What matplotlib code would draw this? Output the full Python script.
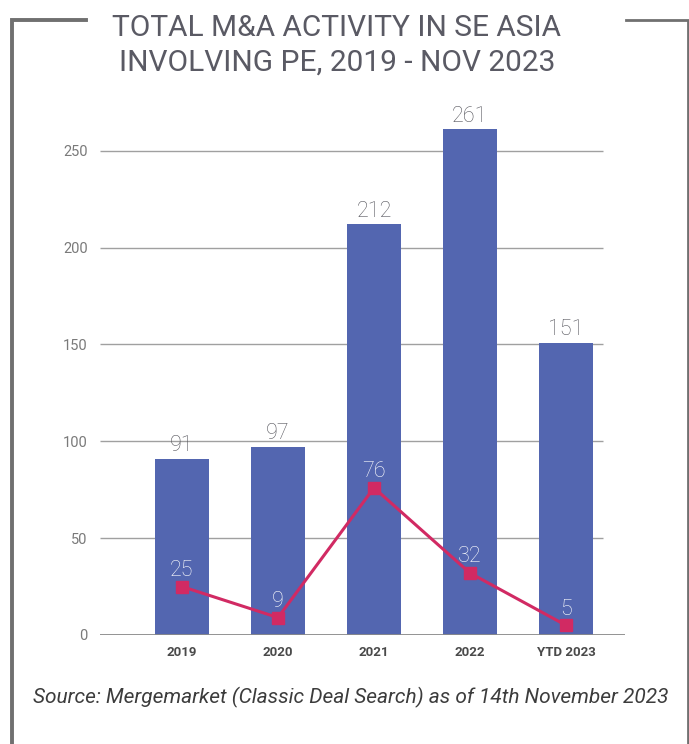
import matplotlib
matplotlib.use("Agg")
import matplotlib.pyplot as plt
from matplotlib.lines import Line2D

# Data
categories = ["2019", "2020", "2021", "2022", "YTD 2023"]
total_deals = [91, 97, 212, 261, 151]
pe_deals = [25, 9, 76, 32, 5]
y_ticks = [0, 50, 100, 150, 200, 250]

BAR_COLOR = "#5366b0"
LINE_COLOR = "#d12a63"
GRID_COLOR = "#a0a0a0"
TEXT_GRAY = "#5a5a64"

plt.rcParams["font.family"] = ["Roboto", "DejaVu Sans"]

fig = plt.figure(figsize=(6.89, 7.44), dpi=100)
ax = fig.add_axes([100 / 689, 109 / 744, 525 / 689, 523 / 744])

x = list(range(len(categories)))
ax.bar(x, total_deals, width=0.5625, color=BAR_COLOR, zorder=2)
ax.plot(x, pe_deals, color=LINE_COLOR, lw=2.2, marker="s", ms=8,
        markerfacecolor=LINE_COLOR, markeredgecolor=LINE_COLOR, zorder=3)

x_left, x_right = -0.854, 4.615
ax.set_xlim(x_left, x_right)
ax.set_ylim(0, 270)

# Horizontal gridlines (stop short of the baseline's right end)
ax.hlines([t for t in y_ticks if t > 0], x_left, 4.385, color=GRID_COLOR, lw=1.0, zorder=1)
ax.axhline(0, color="#8a8a8a", lw=1.3, zorder=4)

for s in ax.spines.values():
    s.set_visible(False)
ax.set_yticks(y_ticks)
ax.set_yticklabels([str(t) for t in y_ticks], fontsize=10.5, color="#7a7a7a")
ax.tick_params(axis="y", length=0, pad=9)
ax.set_xticks(x)
ax.set_xticklabels(categories, fontsize=9.5, fontweight="bold", color="#4a4a4a")
ax.tick_params(axis="x", length=0, pad=8)

# Value labels
for xi, v in zip(x, total_deals):
    ax.annotate(str(v), (xi, v), xytext=(0, 2), textcoords="offset points",
                ha="center", va="bottom", fontsize=15.5, color="#55555c",
                fontweight="light")
for xi, v in zip(x, pe_deals):
    ax.annotate(str(v), (xi, v), xytext=(0, 4), textcoords="offset points",
                ha="center", va="bottom", fontsize=15.5, color="white",
                fontweight="light", zorder=5)

# Title
title_kw = dict(ha="center", va="center", fontsize=21.5, color=TEXT_GRAY)
fig.text(337 / 689, 1 - 27.5 / 744, "TOTAL M&A ACTIVITY IN SE ASIA", **title_kw)
fig.text(337 / 689, 1 - 63 / 744, "INVOLVING PE, 2019 - NOV 2023", **title_kw)

# Source note
fig.text(351 / 689, 1 - 697 / 744,
         "Source: Mergemarket (Classic Deal Search) as of 14th November 2023",
         ha="center", va="center", fontsize=15, style="italic", color="#3c3c3c")

# Bracket frame
frame_color = "#707070"
def fx(px):
    return px / 689
def fy(py):
    return 1 - py / 744
fig.add_artist(Line2D([fx(12), fx(12), fx(86)], [fy(744), fy(19.5), fy(19.5)],
                      color=frame_color, lw=2.8, solid_joinstyle="miter"))
fig.add_artist(Line2D([fx(626), fx(687.5), fx(687.5)], [fy(19.5), fy(19.5), fy(744)],
                      color=frame_color, lw=2.0, solid_joinstyle="miter"))

fig.savefig("out.png", dpi=100, facecolor="white")
